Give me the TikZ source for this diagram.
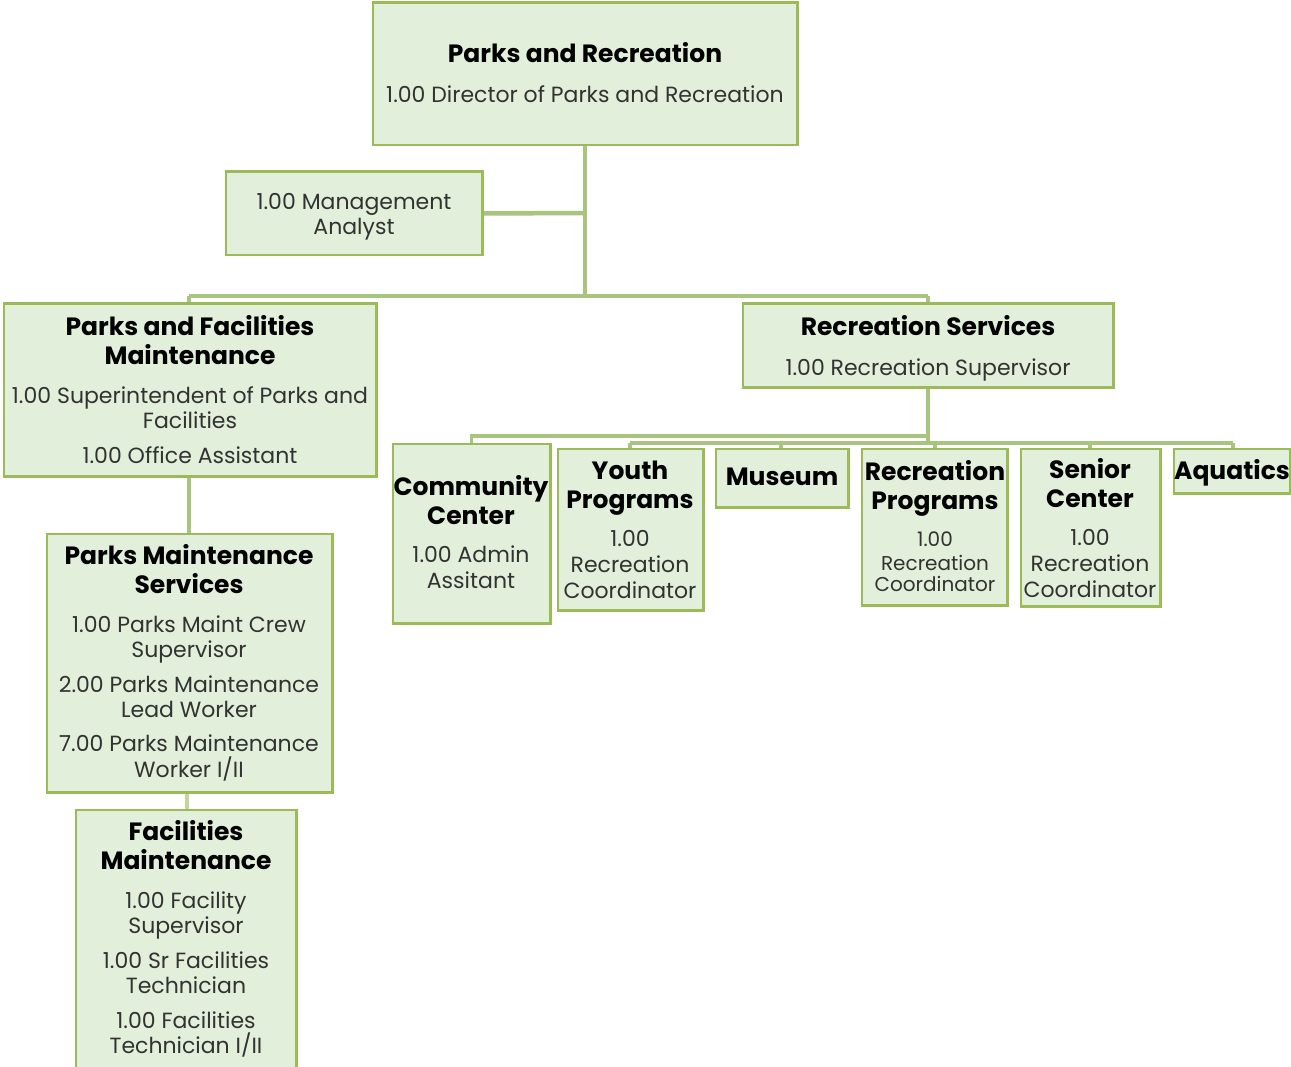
\documentclass[tikz,border=0pt]{standalone}
\usepackage{fontspec}
\setmainfont{Poppins}
\begin{document}
\definecolor{boxfill}{RGB}{226,239,218}
\definecolor{boxline}{RGB}{155,187,89}
\definecolor{linkline}{RGB}{169,196,127}
\definecolor{linklight}{RGB}{195,214,155}
\definecolor{bodytext}{RGB}{50,50,50}
\begin{tikzpicture}[x=1pt,y=-1pt,
  orgbox/.style={draw=boxline,fill=boxfill,line width=1.5pt,inner sep=0pt,rectangle},
  lbl/.style={inner sep=0pt,text height=0.7em,text depth=0pt,yshift=-5pt},
  hd/.style={lbl,font=\fontsize{25}{25}\selectfont\bfseries,text=black},
  tx/.style={lbl,font=\fontsize{22}{22}\selectfont,text=bodytext},
  txs/.style={lbl,font=\fontsize{20}{20}\selectfont,text=bodytext},
  link/.style={draw=linkline,line width=4.5pt},
  linkb/.style={draw=linkline,line width=3.5pt}]
\useasboundingbox (0,0) rectangle (1291,1067);
\clip (0,0) rectangle (1291,1067);
% box macro: name, x1, y1, x2, y2
\newcommand{\orgrect}[5]{%
  \pgfmathsetmacro{\bw}{#4-#2}\pgfmathsetmacro{\bh}{#5-#3}%
  \node[orgbox,minimum width=\bw pt,minimum height=\bh pt] (#1) at ({(#2+#4)/2},{(#3+#5)/2}) {};}

% junction points of the tree
\coordinate (busL) at (189,296);
\coordinate (busR) at (928,296);
\coordinate (busTop) at (585,296);
\coordinate (maJ) at (585,213);
\coordinate (rsA) at (928,436);
\coordinate (rsB) at (928,443);

\orgrect{top}{373}{3}{797}{145}
\orgrect{ma}{226}{172}{482}{255}
\orgrect{pfm}{4}{304}{376}{476}
\orgrect{rs}{743}{304}{1113}{387}
\orgrect{cc}{393}{444}{550}{623}
\orgrect{yp}{558}{449}{703}{610}
\orgrect{mu}{716}{449}{848}{507}
\orgrect{rp}{862}{449}{1007}{605}
\orgrect{sc}{1021}{449}{1160}{606}
\orgrect{aq}{1174}{449}{1290}{493}
\orgrect{pms}{47}{534}{332}{792}
\orgrect{fm}{76}{810}{296}{1080}

% tree lines
\draw[link] (top.south) -- (busTop);
\draw[link] (ma.east) -- (maJ);
\draw[link] (busL) -- (busR);
\draw[link] (busL) -- (busL |- pfm.north);
\draw[link] (busR) -- (rs.north);
\draw[link] (pfm.south -| busL) -- (busL |- pms.north);
\draw[linkb,draw=linklight] (187,792) -- (187,810);
\draw[link] (rs.south) -- (rsB);
\draw[linkb] (rsA) -- (rsA -| cc.north) -- (cc.north);
\draw[linkb] (630,443) -- (1233,443);
\draw[linkb] (630,443) -- (630,449);
\draw[linkb] (781,443) -- (781,449);
\draw[linkb] (935,443) -- (935,449);
\draw[linkb] (1090,443) -- (1090,449);
\draw[linkb] (1233,443) -- (1233,449);

% box outlines drawn again over the line ends
\foreach \n in {top,ma,pfm,rs,cc,yp,mu,rp,sc,aq,pms,fm} {
  \draw[draw=boxline,line width=1.5pt] (\n.north west) rectangle (\n.south east);}

% texts
\node[hd] (t1) at (585,54) {Parks and Recreation};
\node[tx] (t2) at (585,94) {1.00 Director of Parks and Recreation};

\node[tx] (m1) at (354,201) {1.00 Management};
\node[tx] (m2) at (354,226) {Analyst};

\node[hd] (p1) at (190,327) {Parks and Facilities};
\node[hd] (p2) at (190,356) {Maintenance};
\node[tx] (p3) at (190,395) {1.00 Superintendent of Parks and};
\node[tx] (p4) at (190,420) {Facilities};
\node[tx] (p5) at (190,455) {1.00 Office Assistant};

\node[hd] (r1) at (928,327) {Recreation Services};
\node[tx] (r2) at (928,367) {1.00 Recreation Supervisor};

\node[hd] (c1) at (471,487) {Community};
\node[hd] (c2) at (471,516) {Center};
\node[tx] (c3) at (471,554) {1.00 Admin};
\node[tx] (c4) at (471,580) {Assitant};

\node[hd] (y1) at (630,471) {Youth};
\node[hd] (y2) at (630,500) {Programs};
\node[tx] (y3) at (630,538) {1.00};
\node[tx] (y4) at (630,564) {Recreation};
\node[tx] (y5) at (630,590) {Coordinator};

\node[hd] (u1) at (782,477) {Museum};

\node[hd] (q1) at (935,472) {Recreation};
\node[hd] (q2) at (935,501) {Programs};
\node[txs] (q3) at (935,538) {1.00};
\node[txs] (q4) at (935,562) {Recreation};
\node[txs] (q5) at (935,583) {Coordinator};

\node[hd] (s1) at (1090,470) {Senior};
\node[hd] (s2) at (1090,499) {Center};
\node[tx] (s3) at (1090,537) {1.00};
\node[tx] (s4) at (1090,563) {Recreation};
\node[tx] (s5) at (1090,589) {Coordinator};

\node[hd] (a1) at (1232,471) {Aquatics};

\node[hd] (n1) at (189,556) {Parks Maintenance};
\node[hd] (n2) at (189,585) {Services};
\node[tx] (n3) at (189,624) {1.00 Parks Maint Crew};
\node[tx] (n4) at (189,649) {Supervisor};
\node[tx] (n5) at (189,684) {2.00 Parks Maintenance};
\node[tx] (n6) at (189,709) {Lead Worker};
\node[tx] (n7) at (189,743) {7.00 Parks Maintenance};
\node[tx] (n8) at (189,769) {Worker I/II};

\node[hd] (f1) at (186,832) {Facilities};
\node[hd] (f2) at (186,861) {Maintenance};
\node[tx] (f3) at (186,900) {1.00 Facility};
\node[tx] (f4) at (186,925) {Supervisor};
\node[tx] (f5) at (186,960) {1.00 Sr Facilities};
\node[tx] (f6) at (186,985) {Technician};
\node[tx] (f7) at (186,1020) {1.00 Facilities};
\node[tx] (f8) at (186,1045) {Technician I/II};
\end{tikzpicture}
\end{document}
